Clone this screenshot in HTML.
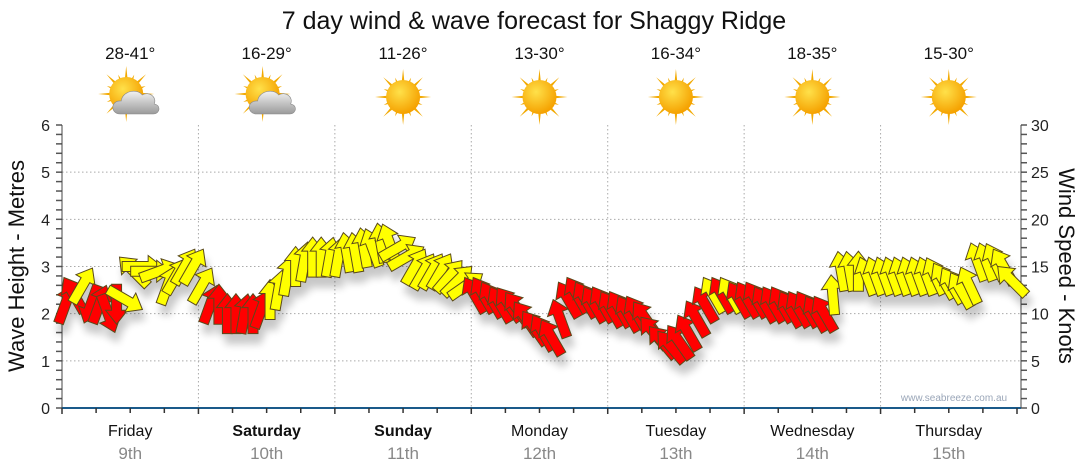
<!DOCTYPE html>
<html><head><meta charset="utf-8"><style>
body{margin:0;background:#fff;}
svg{display:block;font-family:"Liberation Sans",sans-serif;}
</style></head><body>
<svg id="chart" width="1080" height="475" viewBox="0 0 1080 475">
<defs>
<filter id="sh" x="-50%" y="-50%" width="200%" height="200%"><feGaussianBlur in="SourceAlpha" stdDeviation="4"/><feOffset dx="3" dy="10"/><feComponentTransfer><feFuncA type="linear" slope="0.22"/></feComponentTransfer><feMerge><feMergeNode/><feMergeNode in="SourceGraphic"/></feMerge></filter>
<radialGradient id="sun" cx="40%" cy="35%" r="65%"><stop offset="0" stop-color="#ffe14a"/><stop offset="1" stop-color="#f5a100"/></radialGradient>
<linearGradient id="cloud" x1="0" y1="0" x2="0" y2="1"><stop offset="0" stop-color="#f2f2f2"/><stop offset="1" stop-color="#9a9a9a"/></linearGradient>
</defs>
<text x="534" y="29" font-size="25" text-anchor="middle" fill="#111">7 day wind &amp; wave forecast for Shaggy Ridge</text>
<g id="grid"></g>
<g id="axes"></g>
<g id="icons"></g>
<g id="arrows" filter="url(#sh)"></g>
<text x="954" y="401" font-size="10" fill="#9aa6b8" text-anchor="middle">www.seabreeze.com.au</text>
<text transform="translate(24,266) rotate(-90)" font-size="22" text-anchor="middle" fill="#111">Wave Height - Metres</text>
<text transform="translate(1059,266) rotate(90)" font-size="22" text-anchor="middle" fill="#111">Wind Speed - Knots</text>
</svg>
<script>
const days=["Friday","Saturday","Sunday","Monday","Tuesday","Wednesday","Thursday"];
const dates=["9th","10th","11th","12th","13th","14th","15th"];
const temps=["28-41°","16-29°","11-26°","13-30°","16-34°","18-35°","15-30°"];
const cloudy=[true,true,false,false,false,false,false];
const boldDays=[false,true,true,false,false,false,false];
const waveTicks=[0,1,2,3,4,5,6];
const windTicks=[0,5,10,15,20,25,30];
const windSpeed=[11,12,13,11,11,10,11,11.5,14.5,15,14.5,14.5,13,14,15,15,
13,11,11,10,10,10,10,10.5,11.5,12.5,14,15,15.5,16,16,16,
16,16.5,16.5,17,17,17.5,17.5,17,16,15,14.5,14.5,14.5,14,13.5,13,
12,12,11.5,11,11,10.5,9.5,8.5,8,7.5,9.5,11.5,12,11.5,11,11,
10.5,10.5,10,10,9.5,8,7,6.5,7,8,9.5,11,12,12,12,11.5,
11.5,11.5,11,11,11,10.5,10.5,10.5,10,10,12,14.5,14.5,14.5,14,14,
14,14,14,14,14,14,14,13.5,13,12.5,13,15.5,15.5,15.5,15,13.5];
const windDir=[20,-30,30,200,20,160,180,120,-45,90,90,70,20,30,30,30,
30,20,0,0,0,10,0,20,0,10,10,0,10,0,0,10,
10,-10,-10,-10,-20,-10,-20,60,60,30,30,30,30,40,45,55,
-30,-30,-30,-30,-35,-35,-35,-35,-30,-30,-20,-30,-30,-30,-30,-30,
-30,-30,-30,-30,-35,-40,-40,-40,-35,-30,-30,-30,-30,-30,-30,-30,
-30,-30,-30,-30,-30,-30,-30,-30,-30,-30,-5,-10,-10,0,-20,-20,
-20,-20,-20,-20,-20,-20,-25,-30,-30,-30,-25,-20,-20,-25,-30,-45];
const windColor=["r","r","y","r","r","r","r","y","y","y","y","y","y","y","y","y",
"y","r","r","r","r","r","r","r","y","y","y","y","y","y","y","y",
"y","y","y","y","y","y","y","y","y","y","y","y","y","y","y","y",
"r","r","r","r","r","r","r","r","r","r","r","r","r","r","r","r",
"r","r","r","r","r","r","r","r","r","r","r","r","y","r","y","r",
"r","r","r","r","r","r","r","r","r","r","y","y","y","y","y","y",
"y","y","y","y","y","y","y","y","y","y","y","y","y","y","y","y"];
const NS="http://www.w3.org/2000/svg";
const X0=62,X1=1017,Y0=408,Y6=125;
const dayW=(X1-X0)/7;
const yWave=v=>Y0-(Y0-Y6)*v/6;
const yWind=k=>Y0-(Y0-Y6)*k/30;
const xT=i=>X0+(i+0.4)*dayW/16;
function mk(tag,attrs,parent){const e=document.createElementNS(NS,tag);for(const k in attrs)e.setAttribute(k,attrs[k]);parent.appendChild(e);return e;}
const grid=document.getElementById('grid'),axes=document.getElementById('axes'),icons=document.getElementById('icons'),arr=document.getElementById('arrows');
waveTicks.forEach(v=>{
 if(v>0&&v<6){const l=mk('line',{x1:X0,x2:1021,y1:yWave(v),y2:yWave(v),stroke:'#aaa','stroke-dasharray':'1.5 2.5'},grid);
 
 }
 const t=mk('text',{x:50,y:yWave(v)+6,'font-size':16,'text-anchor':'end',fill:'#222'},axes);t.textContent=v;
 
 
});
for(let m=0;m<=30;m++){const y=Y0-(Y0-Y6)*m/30;mk('line',{x1:56,x2:62,y1:y,y2:y,stroke:'#555','stroke-width':1.5},axes);mk('line',{x1:1021,x2:1027,y1:y,y2:y,stroke:'#555','stroke-width':1.5},axes);}
windTicks.forEach(k=>{const t=mk('text',{x:1031,y:yWind(k)+6,'font-size':16,fill:'#222'},axes);t.textContent=k;
 
 });
mk('line',{x1:X0,x2:X0,y1:Y6,y2:Y0,stroke:'#444'},axes);
mk('line',{x1:1021,x2:1021,y1:Y6,y2:Y0,stroke:'#444'},axes);
mk('line',{x1:X0,x2:1021,y1:Y0,y2:Y0,stroke:'#1a5a8a','stroke-width':2},axes);
for(let q=0;q<=28;q++){const x=X0+q*dayW/4;mk('line',{x1:x,x2:x,y1:Y0,y2:Y0+(q%4?5:6),stroke:'#333','stroke-width':1.5},axes);}
days.forEach((d,i)=>{
 const cx=X0+(i+0.5)*dayW;
 if(i>0){const l=mk('line',{x1:X0+i*dayW,x2:X0+i*dayW,y1:Y6,y2:Y0,stroke:'#aaa','stroke-dasharray':'1.5 2.5'},grid);
 
 }
 const t=mk('text',{x:cx,y:436,'font-size':16,'text-anchor':'middle',fill:'#111','font-weight':boldDays[i]?'bold':'normal'},axes);t.textContent=d;
 
 
 const t2=mk('text',{x:cx,y:459,'font-size':17,'text-anchor':'middle',fill:'#888'},axes);t2.textContent=dates[i];
 
 
 const t3=mk('text',{x:cx,y:59,'font-size':17,'text-anchor':'middle',fill:'#111'},icons);t3.textContent=temps[i];
 
 
 const g=mk('g',{transform:`translate(${cx},97)`},icons);
 
 
 const sx=cloudy[i]?-4:0,sy=cloudy[i]?-3:0;
 for(let r=0;r<16;r++){const a=r*Math.PI/8,L=r%2?21:28;
  mk('polygon',{points:`${sx+Math.cos(a-0.14)*12},${sy+Math.sin(a-0.14)*12} ${sx+Math.cos(a)*L},${sy+Math.sin(a)*L} ${sx+Math.cos(a+0.14)*12},${sy+Math.sin(a+0.14)*12}`,fill:'#f2a900'},g);}
 mk('circle',{cx:sx,cy:sy,r:17,fill:'url(#sun)'},g);
 if(cloudy[i]){
  mk('path',{d:'M-10,17 C-20,17 -20,3 -9,4 C-8,-6 7,-9 12,-2 C19,-6 27,0 24,7 C31,8 30,17 23,17 Z',fill:'url(#cloud)',stroke:'#888','stroke-width':0.6},g);
 }
});
windSpeed.forEach((k,i)=>{
 const x=xT(i),y=yWind(k);
 const p=mk('polygon',{points:'0,-20 11,-6 5,-6 5,20 -5,20 -5,-6 -11,-6',fill:windColor[i]==='r'?'#ff0000':'#ffff00',stroke:'#5a4a1a','stroke-width':1,transform:`translate(${x},${y}) rotate(${windDir[i]})`},arr);
 
 
});
</script>
</body></html>
